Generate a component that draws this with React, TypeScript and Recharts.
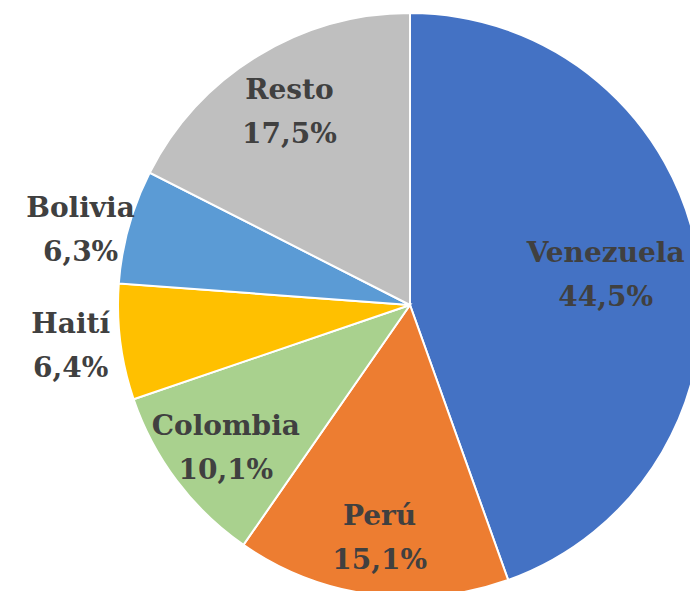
import React from "react";
import { PieChart, Pie, Cell } from "recharts";

// share of foreign residents by country of origin (%)
const countries = ["Venezuela", "Perú", "Colombia", "Haití", "Bolivia", "Resto"];
const shares = [44.5, 15.1, 10.1, 6.4, 6.3, 17.5];
const COLORS = ["#4472C4", "#ED7D31", "#A9D18E", "#FFC000", "#5B9BD5", "#BFBFBF"];

const data = countries.map((name, i) => ({ name, value: shares[i] }));

const RADIAN = Math.PI / 180;
const FONT = "'DejaVu Serif', serif";

// Excel-like "best fit": big slices labelled inside, thin ones outside
const renderLabel = (props: any) => {
  const { cx, cy, midAngle, outerRadius, percent, name, value } = props;
  const outside = percent < 0.08;
  let r: number;
  if (outside) r = outerRadius + 50;
  else if (percent > 0.4) r = outerRadius * 0.68;
  else r = outerRadius * 0.79;
  const x = cx + r * Math.cos(-midAngle * RADIAN);
  let y = cy + r * Math.sin(-midAngle * RADIAN);
  if (outside) y = cy + (y - cy) * 0.86;
  const pct = value.toFixed(1).replace(".", ",") + "%";
  return (
    <text
      x={x}
      y={y}
      textAnchor="middle"
      fill="#404040"
      fontFamily={FONT}
      fontWeight="bold"
      fontSize={28}
    >
      <tspan x={x} dy={-9}>{name}</tspan>
      <tspan x={x} dy={44}>{pct}</tspan>
    </text>
  );
};

export default function App() {
  return (
    <div style={{ position: "absolute", left: 0, top: 0, width: 690, height: 591, background: "#fff" }}>
      <PieChart width={690} height={591} margin={{ top: 0, right: 0, bottom: 0, left: 0 }}>
        <Pie
          data={data}
          dataKey="value"
          nameKey="name"
          cx={410}
          cy={305}
          outerRadius={292}
          startAngle={90}
          endAngle={-270}
          stroke="#ffffff"
          strokeWidth={2}
          label={renderLabel}
          labelLine={false}
          isAnimationActive={false}
        >
          {data.map((d, i) => (
            <Cell key={d.name} fill={COLORS[i]} />
          ))}
        </Pie>
      </PieChart>
    </div>
  );
}
